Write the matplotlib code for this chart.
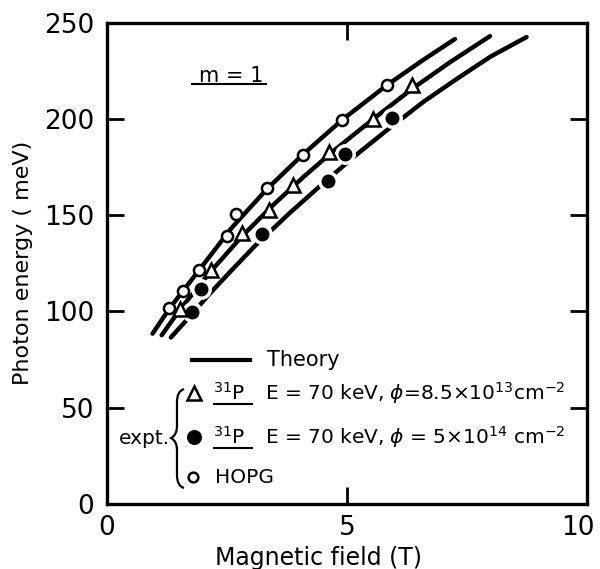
import numpy as np
import matplotlib
matplotlib.use("Agg")
import matplotlib.pyplot as plt
from matplotlib.lines import Line2D
from matplotlib.path import Path
from matplotlib.patches import PathPatch
from matplotlib.transforms import ScaledTranslation

plt.rcParams['font.family'] = 'DejaVu Sans'
plt.rcParams['mathtext.fontset'] = 'dejavusans'

# theory curves
th1_B = [0.95, 1.30, 1.92, 2.60, 3.33, 4.08, 4.90, 5.83, 6.55, 7.25]
th1_E = [88.5, 101.5, 121.5, 143.5, 163.5, 181.5, 199.5, 217.5, 230.0, 241.5]
th2_B = [1.14, 1.52, 2.17, 2.81, 3.45, 4.10, 4.75, 5.55, 6.35, 7.15, 7.98]
th2_E = [87.7, 101.0, 121.0, 139.0, 155.0, 170.0, 184.0, 200.0, 215.5, 229.5, 243.0]
th3_B = [1.33, 1.75, 2.15, 2.60, 3.10, 3.80, 4.50, 5.20, 5.90, 6.60, 7.30, 8.00, 8.74]
th3_E = [86.5, 98.0, 109.5, 121.5, 134.5, 151.0, 166.5, 181.5, 195.5, 209.0, 221.0, 232.5, 242.5]

# experiment
hopg_B = [1.30, 1.59, 1.92, 2.51, 2.69, 3.33, 4.08, 4.90, 5.83]
hopg_E = [101.8, 110.6, 121.7, 139.0, 150.8, 164.1, 181.4, 199.2, 217.7]
p_low_B = [1.52, 2.17, 2.81, 3.38, 3.88, 4.63, 5.55, 6.35]
p_low_E = [101.5, 121.7, 140.8, 152.5, 165.8, 182.7, 200.0, 217.7]
p_high_B = [1.78, 1.96, 3.22, 4.60, 4.96, 5.93]
p_high_E = [99.7, 111.9, 140.4, 167.5, 181.9, 200.4]

fig = plt.figure(figsize=(6, 5.69), dpi=100)
ax = fig.add_axes([0.1783, 0.1142, 0.8, 0.846])

for b, e in [(th1_B, th1_E), (th2_B, th2_E), (th3_B, th3_E)]:
    ax.plot(b, e, color='k', lw=3.2, solid_capstyle='round', zorder=2)

ax.plot(hopg_B, hopg_E, 'o', ms=8, mfc='white', mec='k', mew=1.8, zorder=4)
ax.plot(p_low_B, p_low_E, '^', ms=10, mfc='white', mec='k', mew=1.8, zorder=4)
ax.plot(p_high_B, p_high_E, 'o', ms=14, mfc='white', mec='white', zorder=3)
ax.plot(p_high_B, p_high_E, 'o', ms=9, mfc='k', mec='k', zorder=4)

ax.set_xlim(0, 10)
ax.set_ylim(0, 250)
ax.set_xticks([0, 5, 10])
ax.set_xticklabels(['0', '5', '10'])
ax.set_yticks([0, 50, 100, 150, 200, 250])
ax.tick_params(direction='in', length=12, width=2, labelsize=19, pad=9,
               top=True, right=True)
ax.tick_params(axis='x', pad=8)
for s in ax.spines.values():
    s.set_linewidth(2.4)
# keep the "10" inside the canvas
lab10 = ax.get_xticklabels()[-1]
lab10.set_transform(lab10.get_transform() +
                    ScaledTranslation(-0.09, 0, fig.dpi_scale_trans))

ax.set_xlabel('Magnetic field (T)', fontsize=17)
ax.xaxis.set_label_coords(0.44, -0.088)
ax.set_ylabel('Photon energy ( meV)', fontsize=16, labelpad=8)

# m = 1 label
ax.text(0.192, 0.89, 'm = 1', transform=ax.transAxes, fontsize=15,
        ha='left', va='center')
ax.add_line(Line2D([0.177, 0.332], [0.872, 0.872], transform=ax.transAxes,
                   color='k', lw=1.5))

# legend built by hand
def fx(px):
    return (px - 107) / 480.0

def fy(py):
    return (504 - py) / 481.5

T = ax.transAxes
ax.add_line(Line2D([fx(192), fx(250)], [fy(360), fy(360)], transform=T,
                   color='k', lw=3))
ax.text(fx(267), fy(360), 'Theory', transform=T, fontsize=15, va='center')

rows = [(393, '^', 'white', r'E = 70 keV, $\phi$=8.5$\times$10$^{13}$cm$^{-2}$'),
        (437, 'o', 'k', r'E = 70 keV, $\phi$ = 5$\times$10$^{14}$ cm$^{-2}$')]
for py, mk, fc, label in rows:
    ax.add_line(Line2D([fx(194)], [fy(py)], transform=T, marker=mk,
                       ms=10 if mk == '^' else 9, mfc=fc, mec='k', mew=1.8))
    ax.text(fx(213), fy(py), r'$^{31}$P', transform=T, fontsize=14.5, va='center')
    ax.add_line(Line2D([fx(214), fx(252)], [fy(py + 11), fy(py + 11)],
                       transform=T, color='k', lw=1.5))
    ax.text(fx(265), fy(py), label, transform=T, fontsize=14.5, va='center')

ax.add_line(Line2D([fx(193)], [fy(477)], transform=T, marker='o', ms=7,
                   mfc='white', mec='k', mew=1.8))
ax.text(fx(215), fy(477), 'HOPG', transform=T, fontsize=14.5, va='center')
ax.text(fx(119), fy(438), 'expt.', transform=T, fontsize=14.5, va='center',
        ha='left')

# brace
verts = [(fx(184), fy(389)), (fx(177), fy(391)), (fx(177), fy(402)),
         (fx(177), fy(426)), (fx(177), fy(435)), (fx(171), fy(438)),
         (fx(177), fy(441)), (fx(177), fy(450)), (fx(177), fy(475)),
         (fx(177), fy(486)), (fx(184), fy(488))]
codes = [Path.MOVETO, Path.CURVE3, Path.CURVE3, Path.LINETO,
         Path.CURVE3, Path.CURVE3, Path.CURVE3, Path.CURVE3,
         Path.LINETO, Path.CURVE3, Path.CURVE3]
ax.add_patch(PathPatch(Path(verts, codes), transform=T, fill=False,
                       lw=1.6, color='k', clip_on=False))

plt.savefig('out.png', dpi=100)
